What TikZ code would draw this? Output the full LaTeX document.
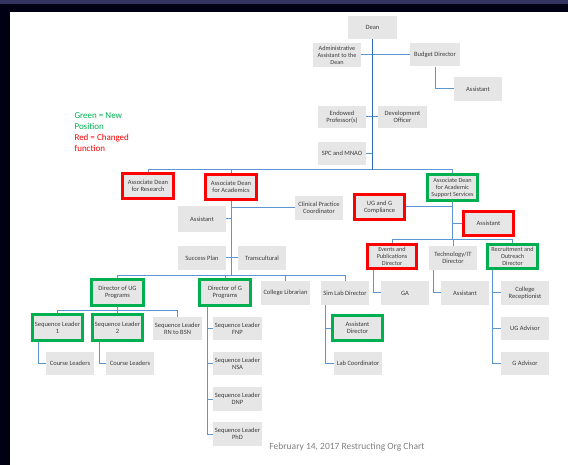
\documentclass[tikz,border=0pt]{standalone}
\usepackage{fontspec}
\setmainfont{Carlito}
\usepackage{xcolor}
\usepackage{tikz}
\usetikzlibrary{positioning, calc}
\definecolor{boxgray}{RGB}{230, 230, 230}
\definecolor{txtgray}{RGB}{60, 60, 60}
\definecolor{newpos}{RGB}{0, 176, 80}
\definecolor{changed}{RGB}{255, 0, 0}
\definecolor{linkblue}{RGB}{91, 150, 210}
\definecolor{trunkblue}{RGB}{46, 110, 180}

\begin{document}
\begin{tikzpicture}[
    x=1pt, y=-1pt,
    every node/.style={align=center, text=txtgray, font=\fontsize{6.5}{7.2}\selectfont},
    box/.style={fill=boxgray, inner sep=0.5pt, minimum width=48pt, minimum height=24pt},
    newbox/.style={box, draw=newpos, line width=3.2pt, minimum width=50pt, minimum height=25pt},
    chgbox/.style={box, draw=changed, line width=3.2pt, minimum width=50pt, minimum height=25pt},
    link/.style={draw=linkblue, line width=1pt}
]
    % frame and page
    \fill[black!92!blue] (0,0) rectangle (568,465);
    \fill[black!70!blue!60!gray] (0,0) rectangle (568,4);
    \fill[white] (10,12) rectangle (568,465);
    \useasboundingbox (0,0) rectangle (568,465);

    % Dean and staff
    \node[box, minimum width=49pt, minimum height=23pt] (dean) at (372.5,27.5) {Dean};
    \node[box, font=\fontsize{6.2}{7}\selectfont] (adminAsst) at (337,55) {Administrative\\Assistant to the\\Dean};
    \node[box, minimum width=50pt, minimum height=23pt] (budget) at (435,55) {Budget Director};
    \node[box] (budgetAsst) at (478,89) {Assistant};
    \node[box, minimum height=22pt] (endowed) at (342,117) {Endowed\\Professor(s)};
    \node[box, minimum width=49pt, minimum height=22pt] (devOfficer) at (402.5,117) {Development\\Officer};
    \node[box, minimum height=23pt] (spc) at (342,153.5) {SPC and MNAO};

    % Legend
    \node[anchor=north west, align=left, font=\fontsize{9}{11}\selectfont, text=newpos] (legNew) at (71,109) {Green = New\\Position};
    \node[anchor=north west, align=left, font=\fontsize{9}{11}\selectfont, text=changed] (legChg) at (71,131) {Red = Changed\\function};

    % Associate deans
    \node[chgbox, minimum width=51pt] (adResearch) at (148,186) {Associate Dean\\for Research};
    \node[chgbox, minimum width=51pt] (adAcad) at (231,187) {Associate Dean\\for Academics};
    \node[newbox, minimum height=26pt, font=\fontsize{6.2}{7}\selectfont] (adSupport) at (452.5,187.5) {Associate Dean\\for Academic\\Support Services};

    % Academics staff
    \node[box, minimum height=26pt] (acadAsst) at (202,219) {Assistant};
    \node[box] (clinical) at (319,208) {Clinical Practice\\Coordinator};
    \node[box] (success) at (202,258) {Success Plan};
    \node[box] (transcult) at (262,258) {Transcultural};

    % Support services staff
    \node[chgbox] (compliance) at (379.5,207) {UG and G\\Compliance};
    \node[chgbox, minimum height=24pt] (suppAsst) at (488.5,223.5) {Assistant};
    \node[chgbox, minimum width=49pt, minimum height=24pt, font=\fontsize{6.2}{7}\selectfont] (events) at (392,256.5) {Events and\\Publications\\Director};
    \node[box] (tech) at (453,258) {Technology/IT\\Director};
    \node[newbox, minimum height=24pt, font=\fontsize{6.2}{7}\selectfont] (recruit) at (512.5,256.5) {Recruitment and\\Outreach\\Director};
    \node[box] (ga) at (405,293) {GA};
    \node[box] (techAsst) at (465,293) {Assistant};
    \node[box] (reception) at (525,293) {College\\Receptionist};
    \node[box, minimum height=23pt] (ugAdvisor) at (525,328.5) {UG Advisor};
    \node[box, minimum height=23pt] (gAdvisor) at (525,363.5) {G Advisor};

    % Program directors
    \node[newbox, minimum width=52pt, minimum height=26pt] (dirUG) at (117.5,292.5) {Director of UG\\Programs};
    \node[newbox, minimum width=51pt, minimum height=26pt] (dirG) at (225,292.5) {Director of G\\Programs};
    \node[box, minimum width=49pt] (librarian) at (285.5,293) {College Librarian};
    \node[box] (simLab) at (345,293) {Sim Lab Director};

    % UG sequence leaders
    \node[newbox, minimum height=26pt] (seqOne) at (57.5,327.5) {Sequence Leader\\1};
    \node[newbox, minimum height=26pt] (seqTwo) at (117.5,327.5) {Sequence Leader\\2};
    \node[box, minimum width=49pt, minimum height=23pt] (seqRN) at (177.5,328.5) {Sequence Leader\\RN to BSN};
    \node[box, minimum height=23pt] (courseOne) at (70,363.5) {Course Leaders};
    \node[box, minimum height=23pt] (courseTwo) at (130,363.5) {Course Leaders};

    % G sequence leaders
    \node[box, minimum width=49pt, minimum height=23pt] (seqFNP) at (237.5,328.5) {Sequence Leader\\FNP};
    \node[box, minimum width=49pt, minimum height=23pt] (seqNSA) at (237.5,363.5) {Sequence Leader\\NSA};
    \node[box, minimum width=49pt] (seqDNP) at (237.5,399) {Sequence Leader\\DNP};
    \node[box, minimum width=49pt] (seqPhD) at (237.5,434) {Sequence Leader\\PhD};

    % Sim lab staff
    \node[newbox] (asstDir) at (357.5,328) {Assistant\\Director};
    \node[box, minimum height=23pt] (labCoord) at (358,363.5) {Lab Coordinator};

    % Footer
    \node[font=\fontsize{9.5}{11}\selectfont, text=black!50] (footer) at (347,447) {February 14, 2017 Restructing Org Chart};

    % bus coordinates
    \coordinate (busTop) at (372.5,170);
    \coordinate (busAcad) at (231,276);
    \coordinate (busUG) at (117.5,311);
    \coordinate (busSupp) at (452.5,240);

    % Dean connectors
    \draw[link] (adminAsst.east) -- (budget.west);
    \draw[link] (budget.south) |- (budgetAsst.west);
    \draw[link] (endowed.east) -- (devOfficer.west);
    \draw[link] (spc.east) -- (spc.east -| dean.south);
    \draw[link] (adResearch.north) -- (adResearch.north |- busTop) -- (adSupport.north |- busTop) -- (adSupport.north);
    \draw[link] (adAcad.north) -- (adAcad.north |- busTop);
    \draw[draw=trunkblue, line width=1.8pt] (dean.south) -- (busTop);

    % Academics connectors
    \draw[link] (adAcad.south) -- (busAcad);
    \draw[link] (acadAsst.east) -- (acadAsst.east -| adAcad.south);
    \draw[link] (adAcad.south |- clinical.west) -- (clinical.west);
    \draw[link] (success.east) -- (transcult.west);
    \draw[link] (dirUG.north) -- (dirUG.north |- busAcad) -- (simLab.north |- busAcad) -- (simLab.north);
    \foreach \n in {dirG, librarian}
        \draw[link] (\n.north) -- (\n.north |- busAcad);

    % UG programs
    \draw[link] (dirUG.south) -- (busUG);
    \draw[link] (seqOne.north) -- (seqOne.north |- busUG) -- (seqRN.north |- busUG) -- (seqRN.north);
    \draw[link] (seqTwo.north) -- (seqTwo.north |- busUG);
    \draw[link] ([xshift=-19.5pt]seqOne.south) |- (courseOne.west);
    \draw[link] ([xshift=-18.5pt]seqTwo.south) |- (courseTwo.west);

    % G programs
    \path ([xshift=-18pt]dirG.south) coordinate (gLine);
    \draw[link] (gLine) |- (seqPhD.west);
    \foreach \n in {seqFNP, seqNSA, seqDNP}
        \draw[link] (gLine |- \n.west) -- (\n.west);

    % Sim lab
    \path ([xshift=-20pt]simLab.south) coordinate (simLine);
    \draw[link] (simLine) |- (labCoord.west);
    \draw[link] (simLine |- asstDir.west) -- (asstDir.west);

    % Support services connectors
    \draw[link] (adSupport.south) -- (busSupp);
    \draw[link] (compliance.east) -- (compliance.east -| adSupport.south);
    \draw[link] (adSupport.south |- suppAsst.west) -- (suppAsst.west);
    \draw[link] (events.north) -- (events.north |- busSupp) -- (recruit.north |- busSupp) -- (recruit.north);
    \draw[link] (tech.north) -- (tech.north |- busSupp);
    \draw[link] ([xshift=-19pt]events.south) |- (ga.west);
    \draw[link] ([xshift=-20pt]tech.south) |- (techAsst.west);
    \path ([xshift=-20.5pt]recruit.south) coordinate (recLine);
    \draw[link] (recLine) |- (gAdvisor.west);
    \foreach \n in {reception, ugAdvisor}
        \draw[link] (recLine |- \n.west) -- (\n.west);
\end{tikzpicture}
\end{document}
